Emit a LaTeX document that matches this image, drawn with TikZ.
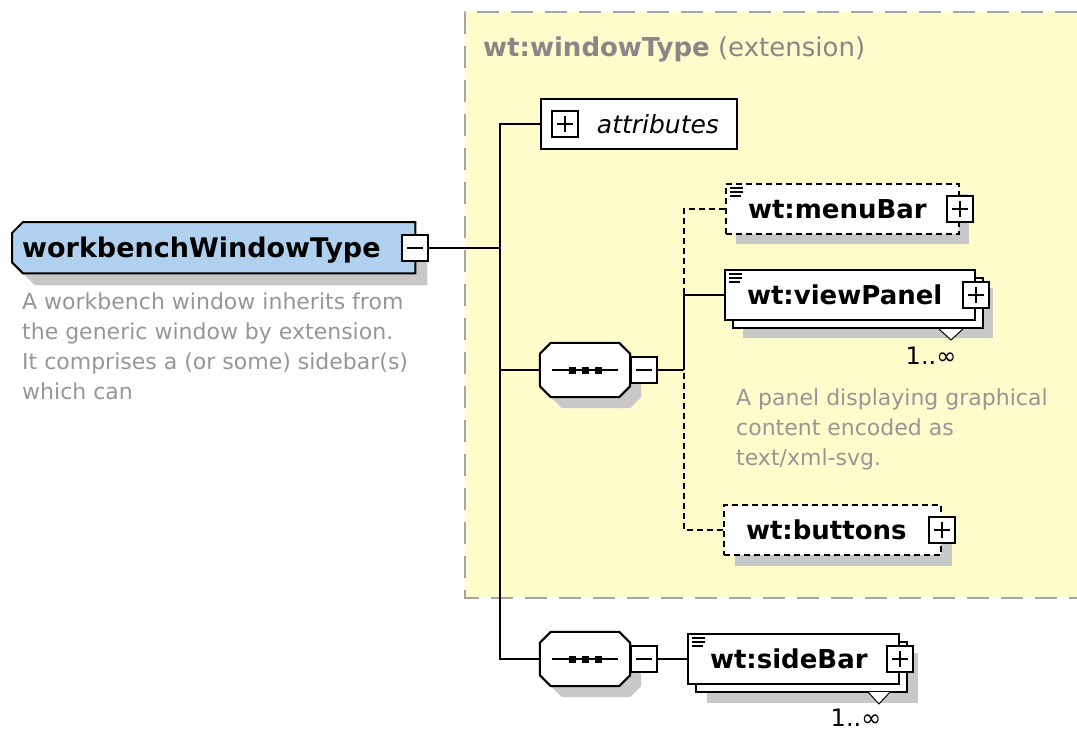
\documentclass[tikz,border=0pt]{standalone}
\usepackage{fontspec}
\setmainfont{DejaVu Sans}
\usetikzlibrary{shadows,positioning}

\definecolor{extfill}{RGB}{255,252,204}
\definecolor{extline}{RGB}{165,165,165}
\definecolor{rootfill}{RGB}{176,208,240}
\definecolor{docgray}{RGB}{150,150,150}
\definecolor{titlegray}{RGB}{135,135,135}
\definecolor{shadowgray}{RGB}{200,200,200}

\begin{document}
\begin{tikzpicture}[x=1pt, y=-1pt,
	conn/.style={line width=2pt},
	shadowed/.style={drop shadow={shadow xshift=#1, shadow yshift=-#1, fill=shadowgray, opacity=1}},
	stacked/.style={general shadow={shadow xshift=8pt, shadow yshift=-8pt, draw=black, fill=white, line width=2pt}},
	outline/.style={draw, line width=2pt, preaction={fill=shadowgray, transform canvas={shift={(#1pt,-#1pt)}}}},
	box/.style={draw, fill=white, line width=2pt, inner ysep=0pt, anchor=north west, minimum height=50pt, text height=18pt, text depth=0pt},
	elem/.style={box, align=left, inner xsep=22pt, font=\fontsize{26}{26}\selectfont\bfseries},
	optional/.style={dash pattern=on 6pt off 4pt},
	pm/.style={draw, fill=white, line width=2pt, minimum size=26pt, inner sep=0pt},
	minusbox/.style={pm, path picture={\draw[line width=2pt] ([xshift=5pt]path picture bounding box.west) -- ([xshift=-5pt]path picture bounding box.east);}},
	plusbox/.style={pm, path picture={\draw[line width=2pt] ([xshift=5pt]path picture bounding box.west) -- ([xshift=-5pt]path picture bounding box.east) ([yshift=-5pt]path picture bounding box.north) -- ([yshift=5pt]path picture bounding box.south);}},
	seq/.style={minimum width=90pt, minimum height=54pt, inner sep=0pt},
	doc/.style={anchor=north west, inner sep=0pt, align=left, text=docgray, font=\fontsize{22}{30}\selectfont},
	mult/.style={inner sep=0pt, font=\fontsize{24}{24}\selectfont}]
	\useasboundingbox (0,0) rectangle (1077,731);

	% extension area
	\fill[extfill] (465,12) rectangle (1077,598);
	\draw[extline, line width=2.5pt, dash pattern=on 22pt off 12pt] (1077,12) -- (465,12) -- (465,598) -- (1077,598);
	\node[anchor=base west, inner sep=0pt, text=titlegray, font=\fontsize{26}{26}\selectfont] (exttitle) at (483,56) {\textbf{wt:windowType} (extension)};

	% root element
	\node[anchor=north west, minimum width=403pt, minimum height=51pt, inner sep=0pt] (wbwt) at (12,222) {};
	\draw[outline=12, fill=rootfill] ([xshift=11pt]wbwt.north west) -- (wbwt.north east) -- (wbwt.south east)
		-- ([xshift=11pt]wbwt.south west) -- ([yshift=11pt]wbwt.south west) -- ([yshift=-11pt]wbwt.north west) -- cycle;
	\node[anchor=west, inner sep=0pt, text height=19.7pt, text depth=0pt, font=\fontsize{27}{27}\selectfont\bfseries] (wbwtname) at ([xshift=10pt]wbwt.west) {workbenchWindowType};
	\node[minusbox] (wbminus) at (wbwt.east) {};
	\node[doc] (wbdoc) at (22,293) {A workbench window inherits from\\the generic window by extension.\\It comprises a (or some) sidebar(s)\\which can};

	% content of the extension
	\node[box, minimum width=196pt, text width=160pt, inner xsep=18pt, align=right, font=\fontsize{25}{25}\selectfont\itshape] (attr) at (540,98) {attributes};
	\node[plusbox] (attrplus) at ([xshift=25pt]attr.west) {};

	\node[seq] (seq1) at (585,370) {};
	\node[seq] (seq2) at (585,659) {};
	\foreach \s in {seq1, seq2} {
		\draw[outline=11, fill=white] ([xshift=11pt]\s.north west) -- ([xshift=-11pt]\s.north east) -- ([yshift=-11pt]\s.north east)
			-- ([yshift=11pt]\s.south east) -- ([xshift=-11pt]\s.south east) -- ([xshift=11pt]\s.south west)
			-- ([yshift=11pt]\s.south west) -- ([yshift=-11pt]\s.north west) -- cycle;
		\draw[line width=2pt] ([xshift=-33pt]\s.center) -- ([xshift=33pt]\s.center);
		\foreach \d in {-13, 0, 13}
			\fill ([shift={(\d-3.5,-3.5)}]\s.center) rectangle ++(7,7);
	}
	\node[minusbox, anchor=west] (seq1minus) at (seq1.east) {};
	\node[minusbox, anchor=west] (seq2minus) at (seq2.east) {};

	\node[elem, optional, shadowed=10pt, minimum width=233pt, text width=189pt] (menubar) at (725,183) {wt:menuBar};
	\node[plusbox] (menubarplus) at (menubar.east) {};
	\node[elem, shadowed=18pt, stacked, minimum width=250pt, text width=206pt] (viewpanel) at (724,269) {wt:viewPanel};
	\node[plusbox] (viewpanelplus) at (viewpanel.east) {};
	\node[mult] (viewpanelmult) at (931,356) {1..∞};
	\node[doc] (viewpaneldoc) at (736,389) {A panel displaying graphical\\content encoded as\\text/xml-svg.};
	\node[elem, optional, shadowed=11pt, minimum width=217pt, text width=173pt] (buttons) at (723,504) {wt:buttons};
	\node[plusbox] (buttonsplus) at (buttons.east) {};

	% sidebar
	\node[elem, shadowed=19pt, stacked, minimum width=211pt, text width=167pt] (sidebar) at (687,633) {wt:sideBar};
	\node[plusbox] (sidebarplus) at (sidebar.east) {};
	\node[mult] (sidebarmult) at (856,718) {1..∞};

	% documentation marks
	\foreach \n in {menubar, viewpanel, sidebar}
		\foreach \dy/\len in {5/13, 9/13, 13/11}
			\draw[line width=1.3pt] ([shift={(5,\dy)}]\n.north west) -- ++(\len,0);

	% multiplicity marks
	\draw[line width=1pt, fill=white] ([shift={(-37,8)}]viewpanel.south east) -- ([shift={(-25,19)}]viewpanel.south east) -- ([shift={(-13,8)}]viewpanel.south east);
	\draw[line width=1pt, fill=white] ([shift={(-32,7)}]sidebar.south east) -- ([shift={(-21,19)}]sidebar.south east) -- ([shift={(-10,7)}]sidebar.south east);

	% connectors
	\coordinate (trunk) at (500,0);
	\coordinate (branch) at (684,0);
	\draw[conn] (wbminus.east) -- (trunk |- wbminus.east);
	\draw[conn] (attr.west) -| (trunk |- seq2.west) -- (seq2.west);
	\draw[conn] (seq1.west) -- (trunk |- seq1.west);
	\draw[conn] (seq1minus.east) -- (branch |- seq1minus.east);
	\draw[conn] (viewpanel.west) -| (branch |- seq1minus.east);
	\draw[conn, optional] (menubar.west) -| (branch |- viewpanel.west);
	\draw[conn, optional] (buttons.west) -| (branch |- seq1minus.east);
	\draw[conn] (seq2minus.east) -- (sidebar.west);
\end{tikzpicture}
\end{document}
